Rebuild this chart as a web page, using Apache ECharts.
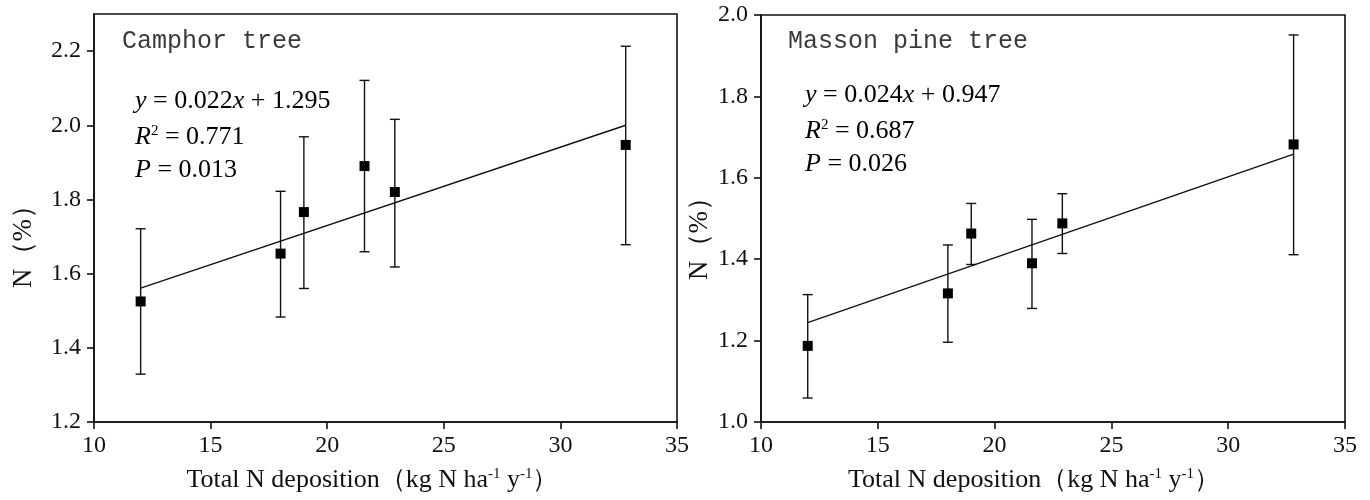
<!DOCTYPE html>
<html>
<head>
<meta charset="utf-8">
<script src="https://cdn.jsdelivr.net/npm/echarts@6/dist/echarts.min.js"></script>
<style>
  html, body { margin: 0; padding: 0; background: #fff; }
  #chart { width: 1370px; height: 500px; }
</style>
</head>
<body>
<div id="chart"></div>
<script>
  // total N deposition at the six sites
  const depoX = [12, 18, 19, 21.6, 22.9, 32.8];

  // camphor tree leaf N (%), mean and error bar ends
  const camphorMean = [1.525, 1.654, 1.766, 1.890, 1.820, 1.947];
  const camphorHi = [1.721, 1.822, 1.969, 2.121, 2.016, 2.213];
  const camphorLo = [1.329, 1.483, 1.560, 1.659, 1.618, 1.678];
  const camphorFitX = [12, 32.8];
  const camphorFitY = [1.561, 2.0];

  // masson pine leaf N (%)
  const massonMean = [1.187, 1.316, 1.463, 1.390, 1.488, 1.682];
  const massonHi = [1.313, 1.435, 1.537, 1.498, 1.561, 1.951];
  const massonLo = [1.059, 1.196, 1.387, 1.279, 1.414, 1.411];
  const massonFitX = [12, 32.8];
  const massonFitY = [1.244, 1.658];

  // tick labels
  const xTicks = [10, 15, 20, 25, 30, 35];
  const camphorYTicks = [1.2, 1.4, 1.6, 1.8, 2.0, 2.2];
  const massonYTicks = [1.0, 1.2, 1.4, 1.6, 1.8, 2.0];

  const ink = '#111';
  const serif = 'Liberation Serif, Times New Roman, serif';

  let chart = echarts.init(document.getElementById('chart'));

  function xAxisOf(idx) {
    return {
      type: 'value',
      gridIndex: idx,
      min: 10,
      max: 35,
      interval: 5,
      axisLine: { lineStyle: { color: ink, width: 1.6 } },
      axisTick: { length: 7, lineStyle: { color: ink, width: 1.6 }, customValues: xTicks },
      axisLabel: { color: ink, fontFamily: serif, fontSize: 24, margin: 12, customValues: xTicks },
      splitLine: { show: false },
      name: 'Total N deposition（kg N ha{sup|-1} y{sup|-1}）',
      nameLocation: 'middle',
      nameGap: 45,
      nameTextStyle: {
        color: ink,
        fontFamily: serif,
        fontSize: 26,
        padding: [0, idx === 0 ? 26 : 38, 0, 0],
        rich: { sup: { fontFamily: serif, fontSize: 15, verticalAlign: 'top', lineHeight: 15, color: ink } }
      }
    };
  }

  function yAxisOf(idx, min, max, ticks) {
    return {
      type: 'value',
      gridIndex: idx,
      min: min,
      max: max,
      interval: 0.2,
      axisLine: { lineStyle: { color: ink, width: 1.6 } },
      axisTick: { length: 7, lineStyle: { color: ink, width: 1.6 }, customValues: ticks },
      axisLabel: {
        color: ink, fontFamily: serif, fontSize: 24, margin: 13, customValues: ticks,
        formatter: v => v.toFixed(1)
      },
      splitLine: { show: false }
    };
  }

  function errorBars(idx, lo, hi) {
    return {
      type: 'custom',
      xAxisIndex: idx,
      yAxisIndex: idx,
      data: depoX.map((x, i) => [x, lo[i], hi[i]]),
      renderItem: function (params, api) {
        const top = api.coord([api.value(0), api.value(2)]);
        const bot = api.coord([api.value(0), api.value(1)]);
        const w = 5;
        const style = { stroke: ink, lineWidth: 1.4 };
        return {
          type: 'group',
          children: [
            { type: 'line', shape: { x1: top[0], y1: top[1], x2: bot[0], y2: bot[1] }, style: style },
            { type: 'line', shape: { x1: top[0] - w, y1: top[1], x2: top[0] + w, y2: top[1] }, style: style },
            { type: 'line', shape: { x1: bot[0] - w, y1: bot[1], x2: bot[0] + w, y2: bot[1] }, style: style }
          ]
        };
      },
      z: 2
    };
  }

  function points(idx, mean) {
    return {
      type: 'scatter',
      xAxisIndex: idx,
      yAxisIndex: idx,
      symbol: 'rect',
      symbolSize: 10,
      itemStyle: { color: '#000', opacity: 1 },
      data: depoX.map((x, i) => [x, mean[i]]),
      z: 4
    };
  }

  function fitLine(idx, fx, fy) {
    return {
      type: 'line',
      xAxisIndex: idx,
      yAxisIndex: idx,
      showSymbol: false,
      symbol: 'none',
      lineStyle: { color: ink, width: 1.4 },
      data: fx.map((x, i) => [x, fy[i]]),
      z: 3
    };
  }

  const eqRich = {
    n: { fontFamily: serif, fontSize: 26, color: ink },
    i: { fontFamily: serif, fontSize: 26, fontStyle: 'italic', color: ink },
    sup: { fontFamily: serif, fontSize: 15, verticalAlign: 'top', lineHeight: 16, color: ink }
  };

  function label(x, y, text) {
    return {
      type: 'text', x: x, y: y,
      style: { text: text, rich: eqRich, verticalAlign: 'middle', align: 'left' }
    };
  }

  function title(x, y, text) {
    return {
      type: 'text', x: x, y: y,
      style: { text: text, fontFamily: 'Liberation Mono, DejaVu Sans Mono, monospace', fontSize: 25, fill: '#3a3a3a', verticalAlign: 'middle' }
    };
  }

  function yName(x, y) {
    return {
      type: 'text', x: x, y: y, rotation: Math.PI / 2,
      style: { text: 'N（%）', fontFamily: serif, fontSize: 27, fill: ink, align: 'center', verticalAlign: 'middle' }
    };
  }

  let option = {
    backgroundColor: '#fff',
    animation: false,
    grid: [
      { left: 94, top: 14, width: 583, height: 408, show: true, borderColor: ink, borderWidth: 1.6, backgroundColor: 'transparent' },
      { left: 761, top: 15, width: 584, height: 407, show: true, borderColor: ink, borderWidth: 1.6, backgroundColor: 'transparent' }
    ],
    xAxis: [xAxisOf(0), xAxisOf(1)],
    yAxis: [
      yAxisOf(0, 1.2, 2.3, camphorYTicks),
      yAxisOf(1, 1.0, 2.0, massonYTicks)
    ],
    series: [
      errorBars(0, camphorLo, camphorHi),
      points(0, camphorMean),
      fitLine(0, camphorFitX, camphorFitY),
      errorBars(1, massonLo, massonHi),
      points(1, massonMean),
      fitLine(1, massonFitX, massonFitY)
    ],
    graphic: [
      title(122, 41, 'Camphor tree'),
      label(135, 101, '{i|y}{n| = 0.022}{i|x}{n| + 1.295}'),
      label(135, 137, '{i|R}{sup|2}{n| = 0.771}'),
      label(135, 170, '{i|P}{n| = 0.013}'),
      yName(24, 240),
      title(788, 41, 'Masson pine tree'),
      label(805, 95, '{i|y}{n| = 0.024}{i|x}{n| + 0.947}'),
      label(805, 131, '{i|R}{sup|2}{n| = 0.687}'),
      label(805, 164, '{i|P}{n| = 0.026}'),
      yName(700, 232)
    ]
  };

  chart.setOption(option);
  window.onresize = function () {
    chart.resize();
  };
</script>
</body>
</html>
